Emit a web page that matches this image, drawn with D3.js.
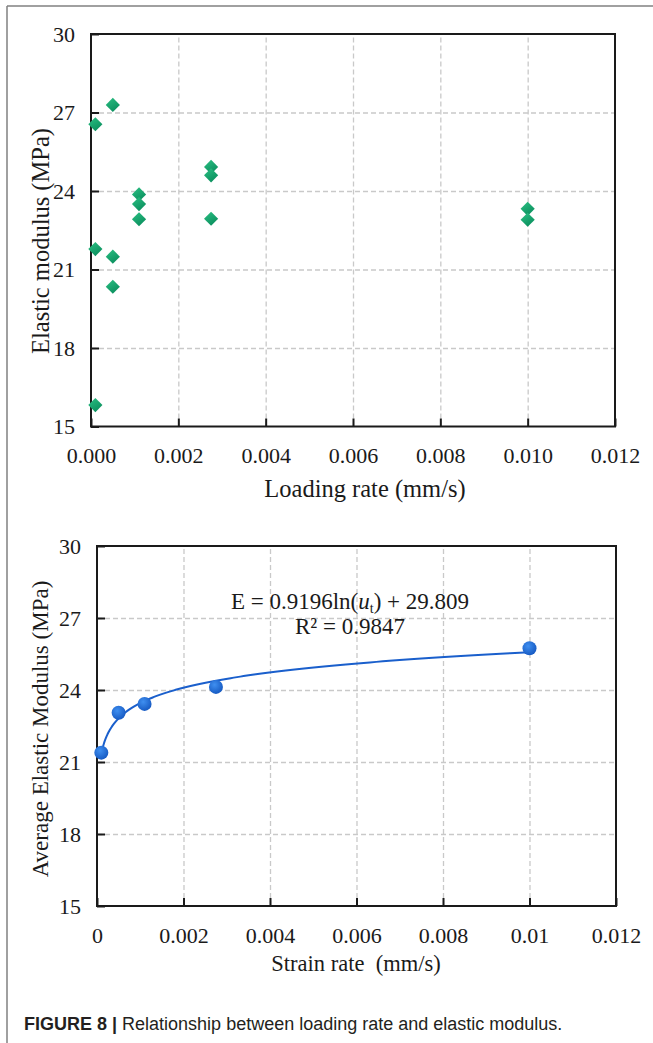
<!DOCTYPE html>
<html>
<head>
<meta charset="utf-8">
<script src="https://cdn.jsdelivr.net/npm/d3@7"></script>
<style>
  html, body { margin: 0; padding: 0; background: #fff; }
  svg { display: block; }
</style>
</head>
<body>
<script>
// ---------- DATA ----------
const xTicks = [0, 0.002, 0.004, 0.006, 0.008, 0.010, 0.012];
const yTicks = [15, 18, 21, 24, 27, 30];
const topXTickLabels = ["0.000", "0.002", "0.004", "0.006", "0.008", "0.010", "0.012"];
const bottomXTickLabels = ["0", "0.002", "0.004", "0.006", "0.008", "0.01", "0.012"];

// Top chart: individual specimens
const specimenRate = [0.0001, 0.0001, 0.0001, 0.0005, 0.0005, 0.0005, 0.0011, 0.0011, 0.0011, 0.00275, 0.00275, 0.00275, 0.01, 0.01];
const specimenModulus = [26.55, 21.78, 15.82, 27.29, 21.49, 20.34, 23.87, 23.50, 22.92, 24.92, 24.60, 22.94, 23.32, 22.90];

// Bottom chart: averages
const avgRate = [0.0001, 0.0005, 0.0011, 0.00275, 0.01];
const avgModulus = [21.39, 23.05, 23.42, 24.13, 25.74];

// Fitted trend (as given on the chart)
const fitA = 0.9196, fitB = 29.809;

// ---------- SVG ----------
const W = 653, H = 1043;
const svg = d3.select("body").append("svg").attr("width", W).attr("height", H);

const defs = svg.append("defs");
const gGreen = defs.append("linearGradient").attr("id", "gGreen")
  .attr("x1", "0").attr("y1", "0").attr("x2", "0.6").attr("y2", "1");
gGreen.append("stop").attr("offset", "0%").attr("stop-color", "#2cc184");
gGreen.append("stop").attr("offset", "100%").attr("stop-color", "#0b8f5e");
const gBlue = defs.append("radialGradient").attr("id", "gBlue")
  .attr("cx", "0.4").attr("cy", "0.35").attr("r", "0.7");
gBlue.append("stop").attr("offset", "0%").attr("stop-color", "#3f8ff0");
gBlue.append("stop").attr("offset", "100%").attr("stop-color", "#1457c0");

// Page frame
svg.append("line").attr("x1", 7).attr("y1", 6).attr("x2", W).attr("y2", 6)
  .attr("stroke", "#808080").attr("stroke-width", 1.5);
svg.append("line").attr("x1", 7).attr("y1", 6).attr("x2", 7).attr("y2", H)
  .attr("stroke", "#808080").attr("stroke-width", 1.5);

const serif = "'Liberation Serif', 'Times New Roman', serif";

function drawFrame(g, x, y, xLabels, tickFont) {
  const [x0, x1] = x.range();
  const [y0, y1] = y.range();
  // grid
  const gridX = g.append("g").attr("transform", `translate(0,${y0})`)
    .call(d3.axisBottom(x).tickValues(xTicks.slice(1, -1)).tickSize(-(y0 - y1)).tickFormat(""));
  const gridY = g.append("g").attr("transform", `translate(${x0},0)`)
    .call(d3.axisLeft(y).tickValues(yTicks.slice(1, -1)).tickSize(-(x1 - x0)).tickFormat(""));
  [gridX, gridY].forEach(gg => {
    gg.select(".domain").remove();
    gg.selectAll("line").attr("stroke", "#c9c9c9").attr("stroke-width", 1.3).attr("stroke-dasharray", "5,3");
  });
  // axes with inward ticks
  const ax = g.append("g").attr("transform", `translate(0,${y0})`)
    .call(d3.axisBottom(x).tickValues(xTicks).tickSize(-8).tickSizeOuter(0).tickPadding(21)
      .tickFormat((d, i) => xLabels[i]));
  const ay = g.append("g").attr("transform", `translate(${x0},0)`)
    .call(d3.axisLeft(y).tickValues(yTicks).tickSize(-8).tickSizeOuter(0).tickPadding(16));
  [ax, ay].forEach(a => {
    a.select(".domain").remove();
    a.selectAll("line").attr("stroke", "#1a1a1a").attr("stroke-width", 2);
    a.selectAll("text").attr("font-family", serif).attr("font-size", tickFont).attr("fill", "#1a1a1a");
  });
  // box
  g.append("rect").attr("x", x0).attr("y", y1).attr("width", x1 - x0).attr("height", y0 - y1)
    .attr("fill", "none").attr("stroke", "#1a1a1a").attr("stroke-width", 2);
}

// ---------- TOP CHART ----------
const x1s = d3.scaleLinear().domain([0, 0.012]).range([91, 615]);
const y1s = d3.scaleLinear().domain([15, 30]).range([426.5, 34]);
const gTop = svg.append("g");
drawFrame(gTop, x1s, y1s, topXTickLabels, 22);

const diamond = d3.symbol().type(d3.symbolDiamond2).size(128);
gTop.append("g").selectAll("path")
  .data(specimenRate.map((r, i) => [r, specimenModulus[i]]))
  .join("path")
  .attr("transform", d => `translate(${x1s(d[0])},${y1s(d[1])})`)
  .attr("d", diamond)
  .attr("fill", "url(#gGreen)");

gTop.append("text").attr("x", 365).attr("y", 497).attr("text-anchor", "middle")
  .attr("font-family", serif).attr("font-size", 24.5).attr("fill", "#1a1a1a")
  .text("Loading rate (mm/s)");
gTop.append("text").attr("transform", "translate(49,241) rotate(-90)").attr("text-anchor", "middle")
  .attr("font-family", serif).attr("font-size", 24.5).attr("fill", "#1a1a1a")
  .text("Elastic modulus (MPa)");

// ---------- BOTTOM CHART ----------
const x2s = d3.scaleLinear().domain([0, 0.012]).range([97, 616]);
const y2s = d3.scaleLinear().domain([15, 30]).range([906, 546]);
const gBot = svg.append("g");
drawFrame(gBot, x2s, y2s, bottomXTickLabels, 22);

const fitPts = d3.range(0, 201).map(i => {
  const u = Math.exp(Math.log(avgRate[0]) + (Math.log(avgRate[avgRate.length - 1]) - Math.log(avgRate[0])) * i / 200);
  return [u, fitA * Math.log(u) + fitB];
});
gBot.append("path").datum(fitPts)
  .attr("d", d3.line().x(d => x2s(d[0])).y(d => y2s(d[1])))
  .attr("fill", "none").attr("stroke", "#1a5fcc").attr("stroke-width", 2);

gBot.append("g").selectAll("circle")
  .data(avgRate.map((r, i) => [r, avgModulus[i]]))
  .join("circle")
  .attr("cx", d => x2s(d[0])).attr("cy", d => y2s(d[1])).attr("r", 7)
  .attr("fill", "url(#gBlue)");

const eq = gBot.append("text").attr("x", 350).attr("y", 609).attr("text-anchor", "middle")
  .attr("font-family", serif).attr("font-size", 23).attr("fill", "#1a1a1a");
eq.append("tspan").text("E = 0.9196ln(");
eq.append("tspan").attr("font-style", "italic").text("u");
eq.append("tspan").attr("font-size", 14).attr("dy", 4).text("t");
eq.append("tspan").attr("dy", -4).text(") + 29.809");
const r2 = gBot.append("text").attr("x", 350).attr("y", 634).attr("text-anchor", "middle")
  .attr("font-family", serif).attr("font-size", 23).attr("fill", "#1a1a1a");
r2.append("tspan").text("R² = 0.9847");

gBot.append("text").attr("x", 356).attr("y", 971).attr("text-anchor", "middle")
  .attr("font-family", serif).attr("font-size", 22.5).attr("fill", "#1a1a1a").attr("xml:space", "preserve")
  .text("Strain rate  (mm/s)");
gBot.append("text").attr("transform", "translate(48,729) rotate(-90)").attr("text-anchor", "middle")
  .attr("font-family", serif).attr("font-size", 23).attr("fill", "#1a1a1a")
  .text("Average Elastic Modulus (MPa)");

// ---------- CAPTION ----------
const cap = svg.append("text").attr("x", 24).attr("y", 1030)
  .attr("font-family", "'Liberation Sans', Arial, sans-serif").attr("font-size", 18).attr("fill", "#231f20");
cap.append("tspan").attr("font-weight", "bold").text("FIGURE 8 | ");
cap.append("tspan").text("Relationship between loading rate and elastic modulus.");
</script>
</body>
</html>
